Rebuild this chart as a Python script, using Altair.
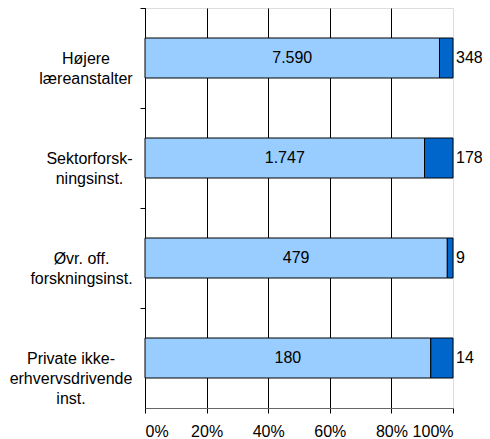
import altair as alt
import pandas as pd

# --- data ---
categories = [
    "Højere|læreanstalter",
    "Sektorforsk-|ningsinst.",
    "Øvr. off.|forskningsinst.",
    "Private ikke-|erhvervsdrivende|inst.",
]
inner_values = [7590, 1747, 479, 180]   # light segment (label inside)
outer_values = [348, 178, 9, 14]        # dark segment (label outside)
x_ticks = [0, 0.2, 0.4, 0.6, 0.8, 1.0]

# --- styles ---
LIGHT = "#99CCFF"
DARK = "#0066CC"
FONT = "Liberation Sans"
# horizontal centre of each multi-line category label, as padding from the tick
label_pad = {categories[0]: 54.5, categories[1]: 51, categories[2]: 59, categories[3]: 69.5}


def dk(v):
    return f"{v:,}".replace(",", ".")


rows = []
for c, a, b in zip(categories, inner_values, outer_values):
    rows.append({"cat": c, "series": "inner", "value": a, "order": 0})
    rows.append({"cat": c, "series": "outer", "value": b, "order": 1})
bars_df = pd.DataFrame(rows)

lab_df = pd.DataFrame({
    "cat": categories,
    "inner_label": [dk(v) for v in inner_values],
    "outer_label": [dk(v) for v in outer_values],
    "inner_mid": [a / (a + b) / 2 for a, b in zip(inner_values, outer_values)],
    "end": [1.0] * len(categories),
})

pad_cond = [{"test": f"datum.value === '{k}'", "value": v} for k, v in list(label_pad.items())[:-1]]

y_enc = alt.Y(
    "cat:N",
    sort=categories,
    title=None,
    scale=alt.Scale(paddingInner=0.6, paddingOuter=0.3),
    axis=alt.Axis(
        labelExpr="split(datum.label, '|')",
        labelAlign="center",
        labelBaseline="middle",
        labelFont=FONT,
        labelFontSize=16,
        labelColor="black",
        labelLineHeight=20,
        labelLimit=0,
        labelPadding={"condition": pad_cond, "value": list(label_pad.values())[-1]},
        tickOffset=-50,
        labelOffset=50,
        tickSize=5,
        tickColor="black",
        domainColor="black",
        grid=False,
    ),
)

x_scale = alt.Scale(domain=[0, 1], nice=False)

bars = alt.Chart(bars_df).mark_bar(stroke="black", strokeWidth=1).encode(
    x=alt.X(
        "value:Q",
        stack="normalize",
        scale=x_scale,
        title=None,
        axis=alt.Axis(
            values=x_ticks,
            format="%",
            labelFont=FONT,
            labelFontSize=16,
            labelColor="black",
            labelPadding=10,
            tickSize=5,
            tickColor="black",
            domainColor="#666666",
            grid=True,
            gridColor="black",
            gridWidth=1,
            gridOpacity={"condition": {"test": "datum.value >= 1", "value": 0}, "value": 1},
        ),
    ),
    y=y_enc,
    color=alt.Color(
        "series:N",
        scale=alt.Scale(domain=["inner", "outer"], range=[LIGHT, DARK]),
        legend=None,
    ),
    order=alt.Order("order:Q"),
)

inner_text = alt.Chart(lab_df).mark_text(
    font=FONT, fontSize=16, color="black", align="center", baseline="middle"
).encode(
    x=alt.X("inner_mid:Q", scale=x_scale),
    y=alt.Y("cat:N", sort=categories),
    text="inner_label:N",
)

outer_text = alt.Chart(lab_df).mark_text(
    font=FONT, fontSize=16, color="black", align="left", baseline="middle", dx=3
).encode(
    x=alt.X("end:Q", scale=x_scale),
    y=alt.Y("cat:N", sort=categories),
    text="outer_label:N",
)

chart = alt.layer(bars, inner_text, outer_text).properties(
    width=308,
    height=400,
    autosize=alt.AutoSizeParams(type="none"),
    padding={"left": 137, "top": 0, "right": 29, "bottom": 31},
).configure_view(stroke=None).configure(background="white")

chart.save("out.html", embed_options={"renderer": "svg", "actions": False})
